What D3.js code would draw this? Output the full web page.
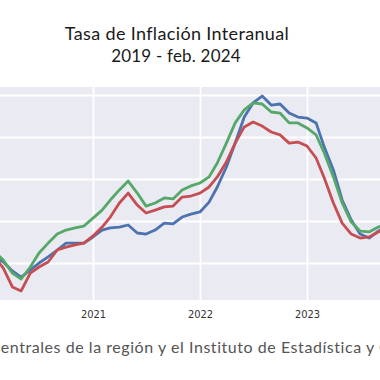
<!DOCTYPE html>
<html>
<head>
<meta charset="utf-8">
<script src="https://cdn.jsdelivr.net/npm/d3@7"></script>
<style>
  html, body { margin: 0; padding: 0; background: #ffffff; }
  svg { display: block; }
</style>
</head>
<body>
<svg id="chart" width="380" height="380"></svg>
<script>
// ---- data (monthly, Feb 2020 – Oct 2023; the visible part of the chart) ----
const months = [
  "2020-02","2020-03","2020-04","2020-05","2020-06","2020-07","2020-08","2020-09","2020-10","2020-11","2020-12",
  "2021-01","2021-02","2021-03","2021-04","2021-05","2021-06","2021-07","2021-08","2021-09","2021-10","2021-11","2021-12",
  "2022-01","2022-02","2022-03","2022-04","2022-05","2022-06","2022-07","2022-08","2022-09","2022-10","2022-11","2022-12",
  "2023-01","2023-02","2023-03","2023-04","2023-05","2023-06","2023-07","2023-08","2023-09","2023-10"
];
const serieAzul = [
  0.33,0.05,-0.38,-0.67,-0.33,0.00,0.29,0.62,0.95,0.95,0.95,
  1.24,1.57,1.67,1.71,1.81,1.43,1.38,1.57,1.90,1.86,2.19,2.33,
  2.43,2.90,3.62,4.57,5.71,6.95,7.62,7.95,7.52,7.57,7.14,6.95,
  6.90,6.67,5.52,4.43,3.00,2.05,1.38,1.19,1.52,1.76
];
const serieVerde = [
  0.52,0.14,-0.48,-0.76,-0.19,0.48,0.95,1.38,1.57,1.67,1.76,
  2.14,2.52,3.00,3.48,3.90,3.33,2.71,2.86,3.10,3.05,3.48,3.67,
  3.81,4.10,4.76,5.71,6.67,7.29,7.62,7.57,7.19,7.14,6.67,6.67,
  6.43,6.10,5.24,4.10,2.86,1.95,1.52,1.48,1.71,1.86
];
const serieRoja = [
  0.29,-0.24,-1.14,-1.33,-0.48,-0.19,0.05,0.62,0.76,0.86,0.95,
  1.29,1.71,2.19,2.86,3.33,2.76,2.38,2.52,2.67,2.71,3.14,3.19,
  3.33,3.62,4.10,4.81,5.71,6.48,6.71,6.52,6.24,6.10,5.71,5.76,
  5.57,5.00,4.05,2.86,1.90,1.38,1.19,1.24,1.48,1.67
];
const yGrid = [0, 2, 4, 6, 8];
const xGridYears = ["2019","2020","2021","2022","2023","2024"];
const xTickLabels = ["2021","2022","2023"];
const titulo = "Tasa de Inflación Interanual";
const subtitulo = "2019 - feb. 2024";
const fuente = "Fuente: bancos centrales de la región y el Instituto de Estadística y Censos";
const fuentePrefijo = "Fuente: bancos c";

// ---- layout ----
const svg = d3.select("#chart");
const plotTop = 87, plotBottom = 300;
const parse = d3.timeParse("%Y-%m");
const parseY = d3.timeParse("%Y");

const x = d3.scaleTime()
  .domain([parse("2021-01"), parse("2023-01")])
  .range([93, 307]);
const plotLeft = x(parse("2018-10")), plotRight = x(parse("2024-05"));

const y = d3.scaleLinear().domain([-1.76, 8.38]).range([plotBottom, plotTop]);

// background
svg.append("rect")
  .attr("x", plotLeft).attr("y", plotTop)
  .attr("width", plotRight - plotLeft).attr("height", plotBottom - plotTop)
  .attr("fill", "#eaeaf2");

// horizontal grid
const gy = svg.append("g").attr("transform", `translate(${plotLeft},0)`)
  .call(d3.axisLeft(y).tickValues(yGrid).tickSize(-(plotRight - plotLeft)).tickFormat(""));
gy.select(".domain").remove();
gy.selectAll("line").attr("stroke", "#ffffff").attr("stroke-width", 2);

// vertical grid
const gv = svg.append("g").attr("transform", `translate(0,${plotBottom})`)
  .call(d3.axisBottom(x).tickValues(xGridYears.map(parseY)).tickSize(-(plotBottom - plotTop)).tickFormat(""));
gv.select(".domain").remove();
gv.selectAll("line").attr("stroke", "#ffffff").attr("stroke-width", 1.8);

// year labels
const gx = svg.append("g").attr("transform", `translate(0,${plotBottom})`)
  .call(d3.axisBottom(x).tickValues(xTickLabels.map(parseY)).tickFormat(d3.timeFormat("%Y")).tickSize(0).tickPadding(10));
gx.select(".domain").remove();
gx.selectAll("text")
  .attr("fill", "#333")
  .attr("font-family", "DejaVu Sans Condensed, DejaVu Sans")
  .attr("font-size", 11);

// lines
const series = [
  { values: serieAzul, color: "#4c72b0" },
  { values: serieRoja, color: "#c44e52" },
  { values: serieVerde, color: "#55a868" }
];
const line = d3.line()
  .x((d, i) => x(parse(months[i])))
  .y(d => y(d));
svg.append("g").selectAll("path")
  .data(series)
  .join("path")
  .attr("d", s => line(s.values))
  .attr("fill", "none")
  .attr("stroke", s => s.color)
  .attr("stroke-width", 2.8)
  .attr("stroke-linejoin", "round")
  .attr("stroke-linecap", "round");

// titles
const fontTitle = "Lato, 'Noto Sans', sans-serif";
svg.append("text").attr("x", 177).attr("y", 40)
  .attr("text-anchor", "middle").attr("font-family", fontTitle)
  .attr("font-size", 18).attr("letter-spacing", 0.35).attr("fill", "#1a1a1a").text(titulo);
svg.append("text").attr("x", 176).attr("y", 62)
  .attr("text-anchor", "middle").attr("font-family", fontTitle)
  .attr("font-size", 17).attr("letter-spacing", 0.2).attr("fill", "#1a1a1a").text(subtitulo);

// source caption (runs past both edges, as in the cropped reference)
const cap = svg.append("text").attr("y", 353)
  .attr("font-family", fontTitle).attr("font-size", 16).attr("letter-spacing", 0.55).attr("fill", "#555");
cap.text(fuentePrefijo);
const pre = cap.node().getComputedTextLength();
cap.text(fuente).attr("x", -pre + 1);
</script>
</body>
</html>
